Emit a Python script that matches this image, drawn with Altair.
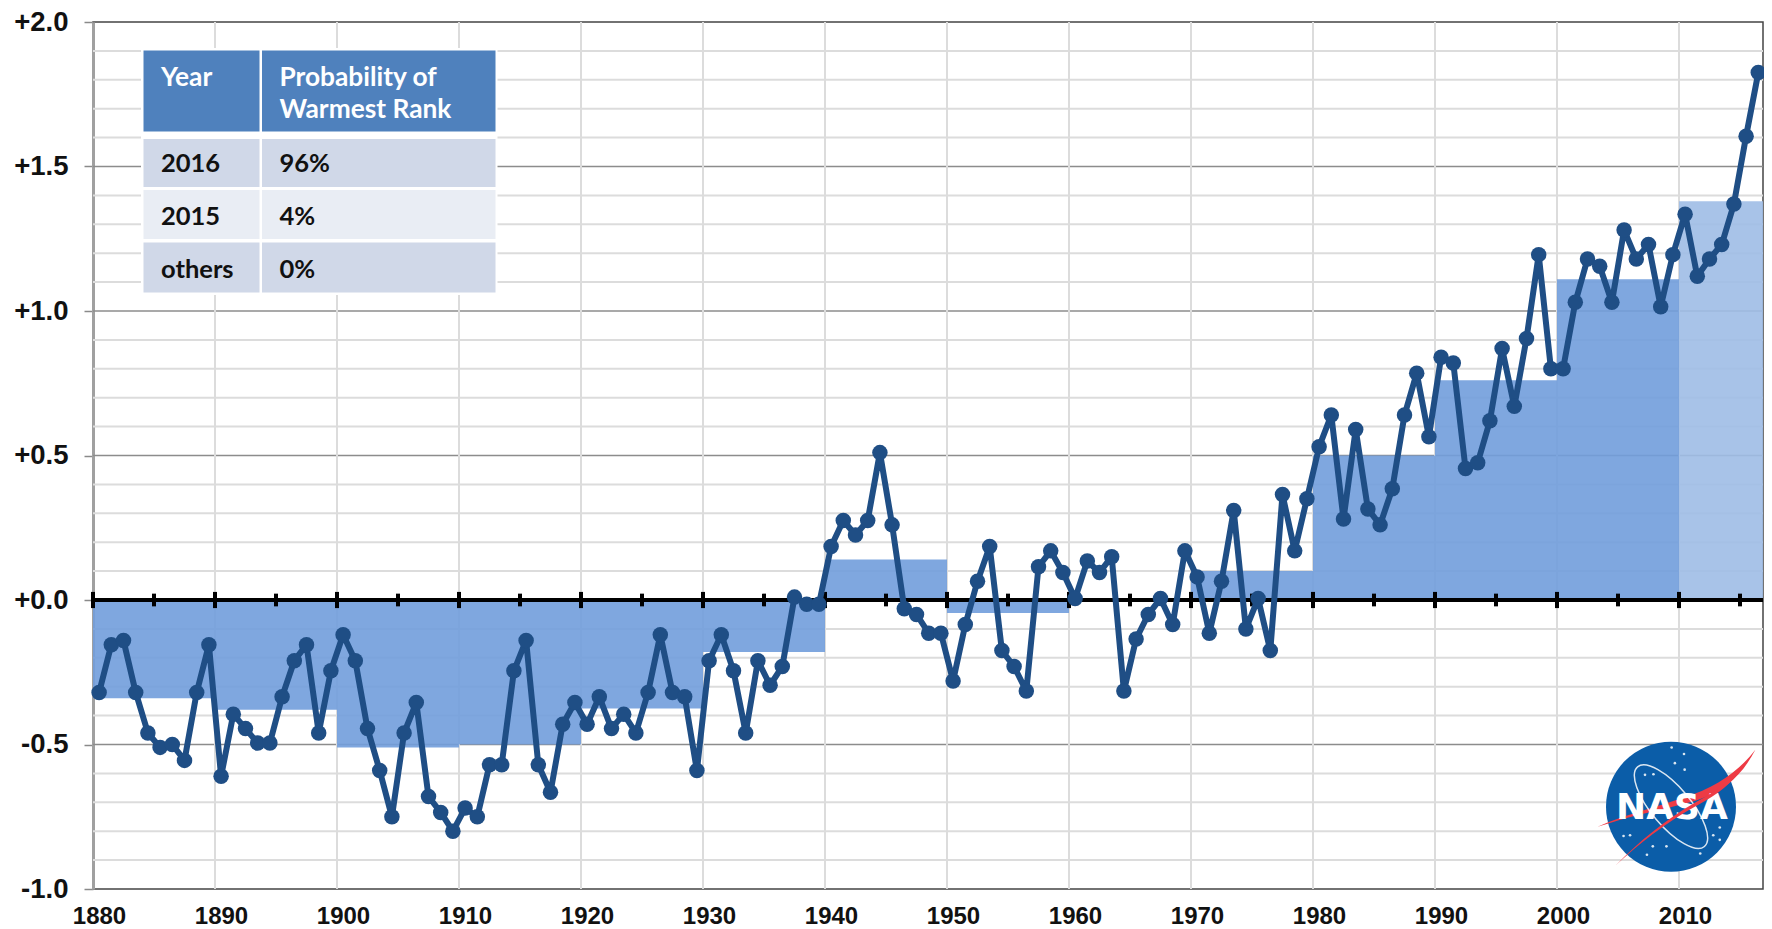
import math
import altair as alt
import pandas as pd

first_year = 1880
anomalies = [
 -0.32,-0.155,-0.14,-0.32,-0.46,-0.51,-0.50,-0.555,-0.32,-0.155,
 -0.61,-0.395,-0.445,-0.495,-0.495,-0.335,-0.21,-0.155,-0.46,-0.245,
 -0.12,-0.21,-0.445,-0.59,-0.75,-0.46,-0.355,-0.68,-0.735,-0.80,
 -0.72,-0.75,-0.57,-0.57,-0.245,-0.14,-0.57,-0.665,-0.43,-0.355,
 -0.43,-0.335,-0.445,-0.395,-0.46,-0.32,-0.12,-0.32,-0.335,-0.59,
 -0.21,-0.12,-0.245,-0.46,-0.21,-0.295,-0.23,0.01,-0.015,-0.015,
 0.185,0.275,0.225,0.275,0.51,0.26,-0.03,-0.05,-0.115,-0.115,
 -0.28,-0.085,0.065,0.185,-0.175,-0.23,-0.315,0.115,0.17,0.095,
 0.005,0.135,0.095,0.15,-0.315,-0.135,-0.05,0.005,-0.085,0.17,
 0.08,-0.115,0.065,0.31,-0.10,0.005,-0.175,0.365,0.17,0.35,
 0.53,0.64,0.28,0.59,0.315,0.26,0.385,0.64,0.785,0.565,
 0.84,0.82,0.455,0.475,0.62,0.87,0.67,0.905,1.195,0.80,
 0.80,1.03,1.18,1.155,1.03,1.28,1.18,1.23,1.015,1.195,
 1.335,1.12,1.18,1.23,1.37,1.605,1.825,
]
decades = list(range(1880, 2020, 10))
decade_means = [-0.34,-0.38,-0.51,-0.50,-0.375,-0.18,0.14,-0.045,0.0,0.10,0.50,0.76,1.11,1.38]
y_ticks = [-1.0,-0.5,0.0,0.5,1.0,1.5,2.0]
minor_y = [round(-1+i*0.1,1) for i in range(31) if i % 5 != 0]
major_y = [-0.5,0.5,1.0,1.5]
mid_decades = [d+5 for d in decades]

table_rows = [("2016","96%"),("2015","4%"),("others","0%")]

LEFT, TOP = 93, 22
W, H = 1670, 867
xs = alt.Scale(domain=[1880, 1880 + W/12.2], nice=False, zero=False)
ys = alt.Scale(domain=[-1, 2], nice=False, zero=False)

series = pd.DataFrame({"x":[first_year+i+0.5 for i in range(len(anomalies))], "v":anomalies})
bars = pd.DataFrame({"x":decades, "x2":[min(d+10, 1880+W/12.2) for d in decades], "v":decade_means,
                     "z":[0]*len(decades), "last":[d==2010 for d in decades]})

minor = alt.Chart(pd.DataFrame({"v":minor_y})).mark_rule(color="#dcdcdc", strokeWidth=2).encode(
    y=alt.Y("v:Q", scale=ys, axis=alt.Axis(values=y_ticks, title=None, grid=False,
        labelExpr="replace(format(datum.value,'+.1f'),'\u2212','-')",
        labelFont="Liberation Sans", labelFontWeight="bold", labelFontSize=27.5, labelColor="#111",
        labelPadding=16, tickSize=9, tickColor="#8a8a8a", tickWidth=1.5,
        domainColor="#a0a0a0", domainWidth=3)))
major = alt.Chart(pd.DataFrame({"v":major_y})).mark_rule(color="#8c8c8c", strokeWidth=1.5).encode(
    y=alt.Y("v:Q", scale=ys))
vert = alt.Chart(pd.DataFrame({"x":decades[1:]})).mark_rule(color="#dcdcdc", strokeWidth=2).encode(
    x=alt.X("x:Q", scale=xs, axis=alt.Axis(values=decades, format="d", title=None, grid=False,
        labelFont="Liberation Sans", labelFontWeight="bold", labelFontSize=24, labelColor="#111",
        labelPadding=15, labelOffset=6, labelBound=False, labelFlush=False, ticks=False, domain=False)))

bar_layer = alt.Chart(bars).mark_rect(opacity=0.9).encode(
    x=alt.X("x:Q", scale=xs), x2="x2:Q",
    y=alt.Y("v:Q", scale=ys), y2="z:Q",
    color=alt.Color("last:N", scale=alt.Scale(domain=[False,True], range=["#719DDC","#9EBDE5"]), legend=None))

zero = alt.Chart(pd.DataFrame({"v":[0]})).mark_rule(color="#000", strokeWidth=4).encode(y=alt.Y("v:Q", scale=ys))
ticks_big = alt.Chart(pd.DataFrame({"x":decades})).mark_rule(color="#000", strokeWidth=4).encode(
    x=alt.X("x:Q", scale=xs), y=alt.datum(-0.028, scale=ys), y2=alt.datum(0.028))
ticks_small = alt.Chart(pd.DataFrame({"x":mid_decades})).mark_rule(color="#000", strokeWidth=4).encode(
    x=alt.X("x:Q", scale=xs), y=alt.datum(-0.022, scale=ys), y2=alt.datum(0.022))

line = alt.Chart(series).mark_line(color="#1F4E85", strokeWidth=6, strokeJoin="round").encode(
    x=alt.X("x:Q", scale=xs), y=alt.Y("v:Q", scale=ys))
dots = alt.Chart(series).mark_circle(color="#1F4E85", opacity=1, size=240).encode(
    x=alt.X("x:Q", scale=xs), y=alt.Y("v:Q", scale=ys))

# ---- table (pixel layout inside the plot area)
def px(a): return a-LEFT
def py(a): return a-TOP
cells = pd.DataFrame([
 (141,497.5,48,295,"#ffffff"),
 (143.5,259.5,50.5,131.5,"#4F81BD"),(262,495.5,50.5,131.5,"#4F81BD"),
 (143.5,259.5,139,187,"#D0D8E8"),(262,495.5,139,187,"#D0D8E8"),
 (143.5,259.5,190,239,"#E9EDF4"),(262,495.5,190,239,"#E9EDF4"),
 (143.5,259.5,242.5,292.5,"#D0D8E8"),(262,495.5,242.5,292.5,"#D0D8E8"),
], columns=["x0","x1","y0","y1","c"])
for k in ["x0","x1"]: cells[k]=cells[k]-LEFT
for k in ["y0","y1"]: cells[k]=cells[k]-TOP
table = alt.Chart(cells).mark_rect().encode(
    x=alt.X("x0:Q", scale=None), x2="x1:Q", y=alt.Y("y0:Q", scale=None), y2="y1:Q",
    color=alt.Color("c:N", scale=None))
C1, C2 = px(161), px(279.5)
tx = [(C1,py(86),"Year","#fff",26.3),(C2,py(86),"Probability of","#fff",26.3),(C2,py(118),"Warmest Rank","#fff",26.3),
      (C1,py(171.7),table_rows[0][0],"#111",25.5),(C2,py(171.7),table_rows[0][1],"#111",25.5),
      (C1,py(225),table_rows[1][0],"#111",25.5),(C2,py(225),table_rows[1][1],"#111",25.5),
      (C1,py(277.7),table_rows[2][0],"#111",25.5),(C2,py(277.7),table_rows[2][1],"#111",25.5)]
table_text = alt.Chart(pd.DataFrame(tx, columns=["x","y","t","c","s"])).mark_text(
    font="Lato", fontWeight="bold", align="left", baseline="alphabetic").encode(
    x=alt.X("x:Q", scale=None), y=alt.Y("y:Q", scale=None), text="t:N",
    color=alt.Color("c:N", scale=None), size=alt.Size("s:Q", scale=None))

# ---- NASA emblem
CX, CY, R = px(1671), py(806.7), 65
def sym(shape, **kw):
    return alt.Chart(pd.DataFrame({"a":[0]})).mark_point(shape=shape, size=(2*R)**2, **kw).encode(
        x=alt.value(CX), y=alt.value(CY))
disc = alt.Chart(pd.DataFrame({"a":[0]})).mark_circle(color="#0B5DA8", opacity=1, size=(2*R)**2).encode(
    x=alt.value(CX), y=alt.value(CY))
swoosh = "M-1.13 0.31 C-0.7 0.12 -0.2 0 0.2 -0.14 C0.7 -0.3 1.05 -0.55 1.30 -0.88 C1.1 -0.5 0.85 -0.25 0.4 -0.1 C0 0.02 -0.5 0.1 -1.13 0.31 Z"
thin = "M-0.85 0.90 C-0.5 0.55 -0.1 0.2 0.4 -0.08 C0.7 -0.25 0.95 -0.4 1.15 -0.68 C0.95 -0.35 0.7 -0.18 0.42 -0.03 C-0.1 0.25 -0.5 0.58 -0.85 0.90 Z"
a, b, th = 0.80, 0.30, math.radians(50)
k = 0.5523
def rot(u,v): return (u*math.cos(th)-v*math.sin(th), u*math.sin(th)+v*math.cos(th))
seq = [(a,0),(a,k*b),(k*a,b),(0,b),(-k*a,b),(-a,k*b),(-a,0),(-a,-k*b),(-k*a,-b),(0,-b),(k*a,-b),(a,-k*b),(a,0)]
p = [rot(*q) for q in seq]
orbit = f"M{p[0][0]:.3f} {p[0][1]:.3f} " + " ".join(
    f"C{p[i][0]:.3f} {p[i][1]:.3f} {p[i+1][0]:.3f} {p[i+1][1]:.3f} {p[i+2][0]:.3f} {p[i+2][1]:.3f}" for i in range(1,13,3))+" Z"
star_u = [0.2,0.06,0.21,-0.27,-0.4,0.75,0.65,0.75,-0.37,-0.28,0.45,-0.73,-0.63,-0.07,0.01]
star_v = [-0.81,-0.67,-0.57,-0.5,-0.49,0.32,0.44,0.51,0.74,0.61,0.72,0.45,0.44,0.61,-0.91]
stars = alt.Chart(pd.DataFrame({"x":[CX+u*R for u in star_u], "y":[CY+v*R for v in star_v]})).mark_circle(
    color="#ffffff", opacity=0.85, size=7).encode(x=alt.X("x:Q", scale=None), y=alt.Y("y:Q", scale=None))
nasa = alt.Chart(pd.DataFrame({"t":["NASA"]})).mark_text(font="DejaVu Sans", fontWeight="bold", fontSize=36,
    color="#fff", align="center", baseline="middle").encode(
    x=alt.value(CX+1), y=alt.value(CY+1), text="t:N")

chart = alt.layer(
    minor, major, vert, bar_layer, zero, ticks_big, ticks_small, line, dots,
    table, table_text,
    disc, stars,
    sym(swoosh, filled=True, color="#EE3B45", opacity=1),
    sym(orbit, filled=False, color="#ffffff", opacity=0.85, strokeWidth=1.5),
    nasa,
    sym(thin, filled=True, color="#EE3B45", opacity=1),
).resolve_scale(color="independent").properties(
    width=W, height=H,
    autosize=alt.AutoSizeParams(type="none"),
    padding={"left":85,"top":14,"right":1,"bottom":40},
    background="#ffffff",
).configure_view(stroke="#444444", strokeWidth=1.5)

chart.save("out.html", embed_options={"renderer":"svg","actions":False})
